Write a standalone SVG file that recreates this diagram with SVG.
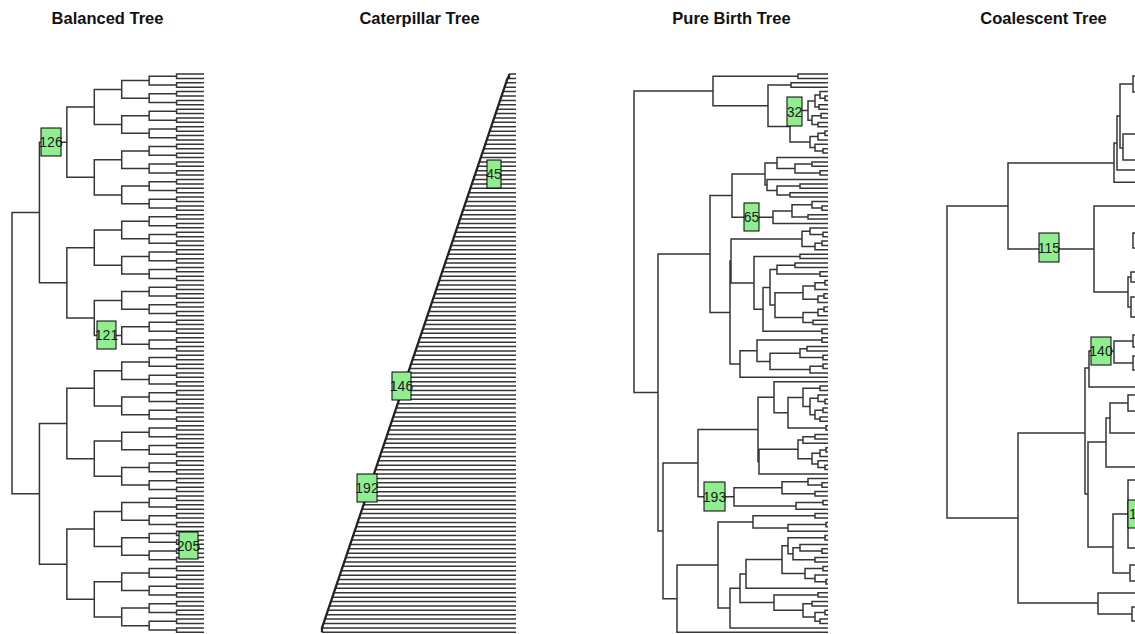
<svg xmlns="http://www.w3.org/2000/svg" width="1135" height="634" viewBox="0 0 1135 634">
<style>
.title{font-family:"Liberation Sans",Arial,sans-serif;font-weight:bold;font-size:16.5px;fill:#111;text-anchor:middle}
.tree{fill:none;stroke:#363636;stroke-width:1.5}
.spine{fill:none;stroke:#222;stroke-width:2.3;stroke-linejoin:round}
.lb rect{fill:#90EE90;stroke:#000;stroke-width:1}
.lb text{font-family:"Liberation Sans",Arial,sans-serif;font-size:14px;fill:#1a1a1a;text-anchor:middle}
</style>
<defs>
<path id="bt1" d="M27.43 0H0V4.396H27.43"/>
<g id="bt2"><path d="M27.43 2.198H0V10.99H27.43"/><use href="#bt1" x="27.43"/><use href="#bt1" x="27.43" y="8.792"/></g>
<g id="bt3"><path d="M27.43 6.594H0V24.178H27.43"/><use href="#bt2" x="27.43"/><use href="#bt2" x="27.43" y="17.584"/></g>
<g id="bt4"><path d="M27.43 15.386H0V50.554H27.43"/><use href="#bt3" x="27.43"/><use href="#bt3" x="27.43" y="35.168"/></g>
<g id="bt5"><path d="M27.43 32.97H0V103.306H27.43"/><use href="#bt4" x="27.43"/><use href="#bt4" x="27.43" y="70.336"/></g>
<g id="bt6"><path d="M27.43 68.138H0V208.81H27.43"/><use href="#bt5" x="27.43"/><use href="#bt5" x="27.43" y="140.672"/></g>
<g id="bt7"><path d="M27.43 138.474H0V419.818H27.43"/><use href="#bt6" x="27.43"/><use href="#bt6" x="27.43" y="281.344"/></g>
<clipPath id="catclip"><polygon points="319.9,634 510.3,70 520,70 520,634"/></clipPath>
</defs>
<rect width="1135" height="634" fill="#fff"/>

<g id="titles">
<text class="title" x="107.5" y="24">Balanced Tree</text>
<text class="title" x="419.5" y="24">Caterpillar Tree</text>
<text class="title" x="731.5" y="24">Pure Birth Tree</text>
<text class="title" x="1043.5" y="24">Coalescent Tree</text>
</g>

<g id="connectors">
<g id="balanced-edges" class="tree"><use href="#bt7" x="12" y="74"/></g>

<g id="caterpillar-edges">
<path class="tree" clip-path="url(#catclip)" d="M322 632.3h194
m-194-4.396h194m-194-4.396h194m-194-4.396h194m-194-4.396h194m-194-4.396h194m-194-4.396h194m-194-4.396h194m-194-4.396h194m-194-4.396h194m-194-4.396h194
m-194-4.396h194m-194-4.396h194m-194-4.396h194m-194-4.396h194m-194-4.396h194m-194-4.396h194m-194-4.396h194m-194-4.396h194m-194-4.396h194m-194-4.396h194
m-194-4.396h194m-194-4.396h194m-194-4.396h194m-194-4.396h194m-194-4.396h194m-194-4.396h194m-194-4.396h194m-194-4.396h194m-194-4.396h194m-194-4.396h194
m-194-4.396h194m-194-4.396h194m-194-4.396h194m-194-4.396h194m-194-4.396h194m-194-4.396h194m-194-4.396h194m-194-4.396h194m-194-4.396h194m-194-4.396h194
m-194-4.396h194m-194-4.396h194m-194-4.396h194m-194-4.396h194m-194-4.396h194m-194-4.396h194m-194-4.396h194m-194-4.396h194m-194-4.396h194m-194-4.396h194
m-194-4.396h194m-194-4.396h194m-194-4.396h194m-194-4.396h194m-194-4.396h194m-194-4.396h194m-194-4.396h194m-194-4.396h194m-194-4.396h194m-194-4.396h194
m-194-4.396h194m-194-4.396h194m-194-4.396h194m-194-4.396h194m-194-4.396h194m-194-4.396h194m-194-4.396h194m-194-4.396h194m-194-4.396h194m-194-4.396h194
m-194-4.396h194m-194-4.396h194m-194-4.396h194m-194-4.396h194m-194-4.396h194m-194-4.396h194m-194-4.396h194m-194-4.396h194m-194-4.396h194m-194-4.396h194
m-194-4.396h194m-194-4.396h194m-194-4.396h194m-194-4.396h194m-194-4.396h194m-194-4.396h194m-194-4.396h194m-194-4.396h194m-194-4.396h194m-194-4.396h194
m-194-4.396h194m-194-4.396h194m-194-4.396h194m-194-4.396h194m-194-4.396h194m-194-4.396h194m-194-4.396h194m-194-4.396h194m-194-4.396h194m-194-4.396h194
m-194-4.396h194m-194-4.396h194m-194-4.396h194m-194-4.396h194m-194-4.396h194m-194-4.396h194m-194-4.396h194m-194-4.396h194m-194-4.396h194m-194-4.396h194
m-194-4.396h194m-194-4.396h194m-194-4.396h194m-194-4.396h194m-194-4.396h194m-194-4.396h194m-194-4.396h194m-194-4.396h194m-194-4.396h194m-194-4.396h194
m-194-4.396h194m-194-4.396h194m-194-4.396h194m-194-4.396h194m-194-4.396h194m-194-4.396h194m-194-4.396h194"/>
<path class="spine" d="M322 632.3V627.9L507.5 78.4L509 76.2M509 74V78.4"/>
</g>

<g id="purebirth-edges" class="tree">
<path d="M713 91H634V392.4H658
M798 76.2H713V105.7H768 M828 74H798V78.4H828 M791 85H768V126.4H790 M828 82.8H791V87.2H828
M808 110.6H790V142.1H810 M815 101H808V120.2H812 M820 94.9H815V107H819 M828 91.6H820V98.2H825 M828 96H825V100.4H828
M828 104.8H819V109.2H828 M821 115.8H812V124.6H818 M828 113.6H821V118H828 M828 122.4H818V126.8H828
M818 136.6H810V147.6H815 M825 133.3H818V139.9H828 M828 131.1H825V135.5H828 M828 144.3H815V150.9H823 M828 148.7H823V153.1H828
M710 254H658V530.9H663 M732 195.6H710V312.5H730 M765 174H732V217.2H773
M777 163H765V185H767 M828 157.5H777V168.5H795 M812 164.1H795V172.9H820 M828 161.9H812V166.3H828 M828 170.7H820V175.1H828
M828 179.5H767V190.5H777 M800 186.1H777V194.9H790 M828 183.9H800V188.3H828 M828 192.7H790V197.1H828
M792 210.9H773V223.5H828 M812 204.8H792V216.9H808 M828 201.5H812V208.1H822 M828 205.9H822V210.3H828 M828 214.7H808V219.1H828
M731 260.9H730V364H740 M802 238.9H731V282.9H754 M810 231.2H802V246.5H815 M828 227.9H810V234.5H823 M828 232.3H823V236.7H828
M822 243.2H815V249.8H828 M828 241H822V245.4H828 M800 256.4H754V309.3H763 M828 254.2H800V258.6H828
M770 287.4H763V331.2H822 M828 329H822V333.4H828 M777 269.6H770V305.1H775 M795 265.2H777V274H820 M828 263H795V267.4H828 M828 271.8H820V276.2H828
M803 292.7H775V317.5H803 M815 286.1H803V299.3H818 M825 282.8H815V289.4H828 M828 280.6H825V285H828 M824 296H818V302.6H828 M828 293.8H824V298.2H828
M818 312.5H803V322.4H813 M824 309.2H818V315.8H828 M828 307H824V311.4H828 M828 320.2H813V324.6H828
M757 350.7H740V377.3H828 M822 340H757V361.4H770 M828 337.8H822V342.2H828 M800 353.2H770V369.6H810 M807 348.8H800V357.5H823
M828 346.6H807V351H828 M828 355.3H823V359.7H828 M823 366.3H810V372.9H828 M828 364.1H823V368.5H828
M698 463.1H663V598.7H677 M758 429.5H698V496.8H734 M774 397.2H758V461.7H759 M828 381.7H774V412.7H788 M803 397.4H788V427.9H826 M828 425.7H826V430.1H828
M820 388.3H803V406.5H810 M828 386.1H820V390.5H828 M818 398.2H810V414.7H815 M828 394.9H818V401.5H825 M828 399.3H825V403.7H828
M823 410.3H815V419.1H820 M828 408.1H823V412.5H828 M828 416.9H820V421.3H828
M798 449.3H759V474H828 M803 440H798V458.7H812 M815 436.7H803V443.3H828 M828 434.5H815V438.9H828 M820 453.2H812V464.1H818
M826 449.9H820V456.5H828 M828 447.7H826V452.1H828 M828 460.8H818V467.4H825 M828 465.2H825V469.6H828
M782 487.7H734V505.9H796 M808 481.7H782V493.8H815 M828 478.4H808V485H822 M828 482.8H822V487.2H828 M828 491.6H815V496H828
M823 502.6H796V509.2H828 M828 500.4H823V504.8H828
M718 565H677V632.3H828 M753 521.9H718V608.1H730 M815 515.8H753V527.9H788 M828 513.6H815V518H828 M826 524.6H788V531.2H828 M828 522.4H826V526.8H828
M740 588.3H730V627.9H828 M746 574H740V602.6H774 M782 559.6H746V588.3H828 M788 545.8H782V573.5H805 M825 537.8H788V553.8H793 M828 535.6H825V540H828
M800 547.7H793V559.8H815 M828 544.4H800V551H822 M828 548.8H822V553.2H828 M828 557.6H815V562H828
M823 568.6H805V578.4H815 M828 566.4H823V570.8H828 M828 575.1H815V581.7H826 M828 579.5H826V583.9H828
M818 594.9H774V610.3H803 M828 592.7H818V597.1H828 M812 603.7H803V616.9H815 M828 601.5H812V605.9H828
M825 612.5H815V621.3H820 M828 610.3H825V614.7H828 M828 619.1H820V623.5H828"/>
</g>

<g id="coalescent-edges" class="tree">
<path d="M1008 206H947V518H1018
M1114 163H1008V249H1094 M1117 143H1114V182.3H1140 M1120 116H1117V170H1140 M1133 84H1120V148H1123
M1140 76H1133V92H1140 M1140 134H1123V160H1140
M1140 206H1094V292H1128 M1131 277H1128V307H1131 M1140 272H1131V282H1140 M1140 297H1131V317H1140 M1140 233H1133V248H1140
M1085 433H1018V603H1098 M1089 368H1085V494H1088 M1114 351H1089V387H1140 M1133 341H1114V363H1133
M1140 335H1133V347H1140 M1140 356H1133V370H1140
M1106 442H1088V547H1113 M1110 418H1106V467H1140 M1128 403H1110V433H1140 M1140 395H1128V411H1140
M1128 514H1113V573H1130 M1140 480H1128V548H1140 M1140 565H1130V581H1140
M1140 593H1098V614H1132 M1140 607H1132V621H1140"/>
</g>
</g>

<g id="label-126" class="lb"><rect x="41" y="128" width="20" height="28"/><text x="51" y="147">126</text></g>
<g id="label-121" class="lb"><rect x="97" y="321" width="19" height="28"/><text x="106.5" y="340">121</text></g>
<g id="label-205" class="lb"><rect x="179" y="532" width="19" height="27"/><text x="188.5" y="550.5">205</text></g>
<g id="label-45" class="lb"><rect x="487" y="160" width="14" height="28"/><text x="494" y="179">45</text></g>
<g id="label-146" class="lb"><rect x="392" y="372" width="19" height="28"/><text x="401.5" y="391">146</text></g>
<g id="label-192" class="lb"><rect x="357" y="474" width="20" height="28"/><text x="367" y="493">192</text></g>
<g id="label-32" class="lb"><rect x="787" y="97" width="15" height="29"/><text x="794.5" y="116.5">32</text></g>
<g id="label-65" class="lb"><rect x="744" y="203" width="15" height="28"/><text x="751.5" y="222">65</text></g>
<g id="label-193" class="lb"><rect x="704" y="482" width="21" height="29"/><text x="714.5" y="501.5">193</text></g>
<g id="label-115" class="lb"><rect x="1039" y="233" width="20" height="29"/><text x="1049" y="252.5">115</text></g>
<g id="label-140" class="lb"><rect x="1091" y="337" width="20" height="28"/><text x="1101" y="356">140</text></g>
<g id="label-1" class="lb"><rect x="1128" y="500" width="20" height="28"/><text x="1129" y="519" style="text-anchor:start">1</text></g>
</svg>
